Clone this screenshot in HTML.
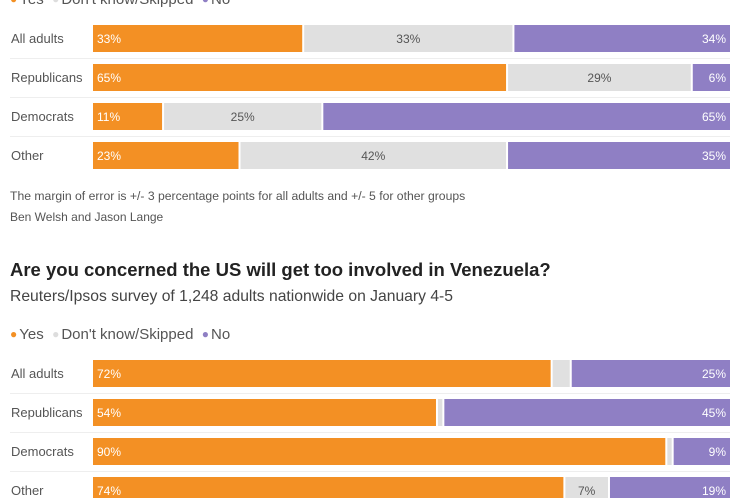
<!DOCTYPE html>
<html><head><meta charset="utf-8"><style>
body{margin:0;width:748px;height:498px;overflow:hidden;background:#fff;font-family:"Liberation Sans",sans-serif;position:relative}
.t{position:absolute;white-space:nowrap}
.d{font-size:12px;margin-right:2px;position:relative;top:-1px}
</style></head><body>
<div class="t" style="left:10px;top:-9px;font-size:15px;color:#555"><span class="d" style="color:#f39024">●</span>Yes &nbsp;<span class="d" style="color:#ddd">●</span>Don't know/Skipped &nbsp;<span class="d" style="color:#8f7fc4">●</span>No</div>
<div class="t" style="left:10px;top:189px;font-size:12.2px;color:#555">The margin of error is +/- 3 percentage points for all adults and +/- 5 for other groups</div>
<div class="t" style="left:10px;top:210px;font-size:12px;color:#555">Ben Welsh and Jason Lange</div>
<div class="t" style="left:10px;top:259px;font-size:18.5px;font-weight:bold;color:#222">Are you concerned the US will get too involved in Venezuela?</div>
<div class="t" style="left:10px;top:288px;font-size:15.7px;color:#444">Reuters/Ipsos survey of 1,248 adults nationwide on January 4-5</div>
<div class="t" style="left:10px;top:326px;font-size:15px;color:#555"><span class="d" style="color:#f39024">●</span>Yes &nbsp;<span class="d" style="color:#ddd">●</span>Don't know/Skipped &nbsp;<span class="d" style="color:#8f7fc4">●</span>No</div>
<svg id="c" width="748" height="498" style="position:absolute;left:0;top:0"></svg>
<script>
const groups=["All adults","Republicans","Democrats","Other"];
const yes1=[33,65,11,23];
const dk1=[33,29,25,42];
const no1=[34,6,65,35];
const yes2=[72,54,90,74];
const dk2=[3,1,1,7];
const no2=[25,45,9,19];
const svg=document.getElementById('c');
const NS='http://www.w3.org/2000/svg';
const X0=93,W=637;
const x=v=>X0+v/100*W;
function mk(tag,attrs,name){const e=document.createElementNS(NS,tag);for(const k in attrs)e.setAttribute(k,attrs[k]);


svg.appendChild(e);return e;}
function draw(top,yes,dk,no,id){
 groups.forEach((g,i)=>{
  const y=top+i*39;
  if(i>0) mk('line',{x1:10,x2:730,y1:y-5.5,y2:y-5.5,stroke:'#eee'},'row-divider');
  const l=mk('text',{x:11,y:y+18,'font-size':13,fill:'#555','font-family':'Liberation Sans, sans-serif'},'row-label');l.textContent=g;
  const a=yes[i],b=dk[i],c=no[i];
  mk('rect',{x:x(0),y:y,width:x(a)-x(0)-1,height:27,fill:'#f39024'},'bar-yes-'+id);
  mk('rect',{x:x(a)+1,y:y,width:x(a+b)-x(a)-2,height:27,fill:'#e0e0e0'},'bar-dk-'+id);
  mk('rect',{x:x(a+b)+1,y:y,width:x(100)-x(a+b)-1,height:27,fill:'#8f7fc4'},'bar-no-'+id);
  const t1=mk('text',{x:x(0)+4,y:y+18,'font-size':12,fill:'#fff','font-family':'Liberation Sans, sans-serif'},'label-yes');t1.textContent=a+'%';
  if(b>=5){const t2=mk('text',{x:(x(a)+x(a+b))/2,y:y+18,'font-size':12,fill:'#555','text-anchor':'middle','font-family':'Liberation Sans, sans-serif'},'label-dk');t2.textContent=b+'%';}
  const t3=mk('text',{x:x(100)-4,y:y+18,'font-size':12,fill:'#fff','text-anchor':'end','font-family':'Liberation Sans, sans-serif'},'label-no');t3.textContent=c+'%';
 });
}
draw(25,yes1,dk1,no1,'q1');
draw(360,yes2,dk2,no2,'q2');
</script>
</body></html>
